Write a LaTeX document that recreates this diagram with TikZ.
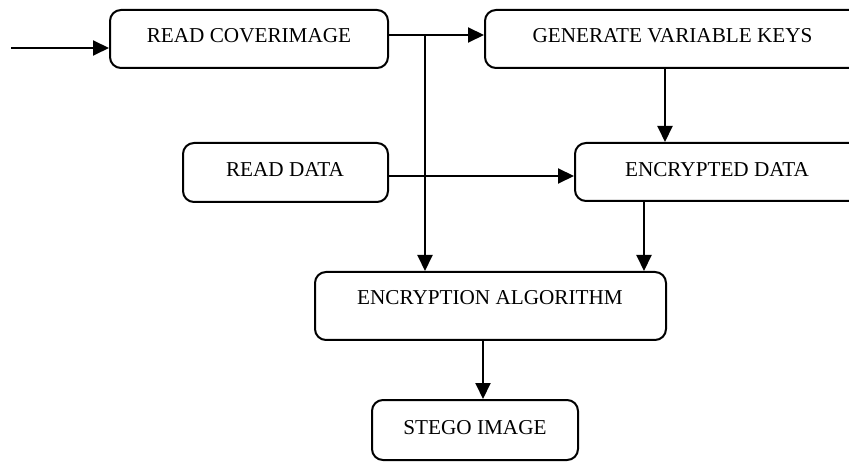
\documentclass[tikz,border=0pt]{standalone}
\usepackage{fontspec}
\setmainfont{Liberation Serif}
\usetikzlibrary{arrows.meta}
\begin{document}
\begin{tikzpicture}[x=1pt,y=-1pt,
  box/.style={draw=black, line width=2pt, rounded corners=11pt, inner sep=0pt},
  txt/.style={inner sep=0pt, font=\fontsize{21.2}{25}\selectfont},
  arr/.style={line width=2pt, -{Triangle[length=16pt,width=15pt]}}]
\useasboundingbox (0,0) rectangle (849,462);
\clip (0,0) rectangle (849,462);
% boxes
\node[box, minimum width=278pt, minimum height=58pt] (rc) at (249,39) {};
\node[box, minimum width=385pt, minimum height=58pt] (gvk) at (677.5,39) {};
\node[box, minimum width=205pt, minimum height=59pt] (rd) at (285.5,172.5) {};
\node[box, minimum width=295pt, minimum height=58pt] (ed) at (722.5,172) {};
\node[box, minimum width=351pt, minimum height=68pt] (ea) at (490.5,306) {};
\node[box, minimum width=206pt, minimum height=60pt] (sg) at (475,430) {};
% texts
\node[txt] (rct) at (249,36) {READ COVERIMAGE};
\node[txt] (gvkt) at (672.5,36) {GENERATE VARIABLE KEYS};
\node[txt] (rdt) at (285,170) {READ DATA};
\node[txt] (edt) at (717,170) {ENCRYPTED DATA};
\node[txt] (eat) at (490,298) {ENCRYPTION ALGORITHM};
\node[txt] (sgt) at (475,427.5) {STEGO IMAGE};
% helper coordinates
\coordinate (in) at (11,48);
\coordinate (j) at (425,35);
\coordinate (gk) at (665,0);
\coordinate (r) at (0,176);
\coordinate (e) at (644,0);
\coordinate (s) at (483,0);
% connectors
\draw[arr] (in) -- (in -| rc.west);
\draw[arr] (rc.east |- j) -- (gvk.west |- j);
\draw[arr] (j) -- (j |- ea.north);
\draw[arr] (gvk.south -| gk) -- (ed.north -| gk);
\draw[arr] (rd.east |- r) -- (ed.west |- r);
\draw[arr] (ed.south -| e) -- (ea.north -| e);
\draw[arr] (ea.south -| s) -- (sg.north -| s);
\end{tikzpicture}
\end{document}
